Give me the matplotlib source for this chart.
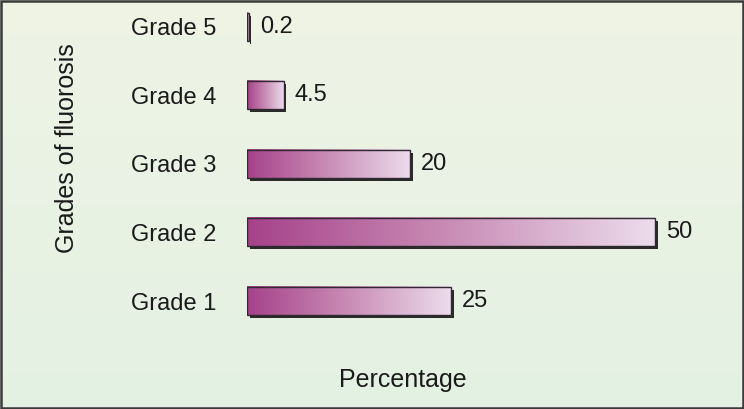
import numpy as np
import matplotlib
matplotlib.use("Agg")
import matplotlib.pyplot as plt
from matplotlib.patches import Rectangle
from matplotlib.colors import LinearSegmentedColormap

categories = ["Grade 1", "Grade 2", "Grade 3", "Grade 4", "Grade 5"]
values = [25, 50, 20, 4.5, 0.2]
value_labels = ["25", "50", "20", "4.5", "0.2"]

W, H = 744, 409
fig = plt.figure(figsize=(W / 100, H / 100), dpi=100)

# background gradient
bg = fig.add_axes([0, 0, 1, 1])
bg.set_axis_off()
grad = np.linspace(0, 1, 256).reshape(-1, 1)
bg_cmap = LinearSegmentedColormap.from_list("bg", ["#e3f1e3", "#eff4e5"])
bg.imshow(grad, aspect="auto", cmap=bg_cmap, origin="lower", extent=[0, 1, 0, 1])
bg.add_patch(Rectangle((0.0015, 0.003), 0.997, 0.994, transform=bg.transAxes,
                       fill=False, edgecolor="#3a3a3a", linewidth=1.8))
bg.set_xlim(0, 1)
bg.set_ylim(0, 1)

x0px = 247
pxu = 8.16
ax = fig.add_axes([x0px / W, 0, (W - x0px) / W, 1])
step = 68.6
base = 108
ax.patch.set_alpha(0)
for s in ax.spines.values():
    s.set_visible(False)

bar_cmap = LinearSegmentedColormap.from_list("bar", ["#a6428a", "#c98db6", "#ecdcec"])
hgt = 0.41
sdx = 2.5 / pxu
sdy = 3.0 / step
hgrad = np.linspace(0, 1, 256).reshape(1, -1)
font = "Liberation Sans"
for i, v in enumerate(values):
    ax.add_patch(Rectangle((sdx, i - hgt / 2 - sdy), v, hgt, facecolor="#2a2a2a",
                           edgecolor="none", zorder=2))
    ax.imshow(hgrad, aspect="auto", cmap=bar_cmap,
              extent=[0, v, i - hgt / 2, i + hgt / 2], zorder=3,
              interpolation="bilinear")
    ax.add_patch(Rectangle((0, i - hgt / 2), v, hgt, facecolor="none",
                           edgecolor="#2f2a2f", linewidth=1.0, zorder=4))
    ax.annotate(value_labels[i], xy=(v, i), xytext=(8, 0), textcoords="offset points",
                ha="left", va="center", fontsize=17, family=font, color="#1a1a1a")

ax.set_xlim(0, (W - x0px) / pxu)
ax.set_ylim(-base / step, (H - base) / step)
ax.set_yticks(range(len(categories)))
ax.set_yticklabels(categories, fontsize=17, family=font, color="#1a1a1a")
ax.tick_params(axis="y", length=0, pad=22)
ax.set_xticks([])

fig.text(67 / W, 1 - 148 / H, "Grades of fluorosis", rotation=90, ha="center", va="center",
         fontsize=18, family=font, color="#1a1a1a")
fig.text(403 / W, 1 - 380 / H, "Percentage", ha="center", va="center",
         fontsize=18, family=font, color="#1a1a1a")

fig.savefig("out.png", dpi=100)
